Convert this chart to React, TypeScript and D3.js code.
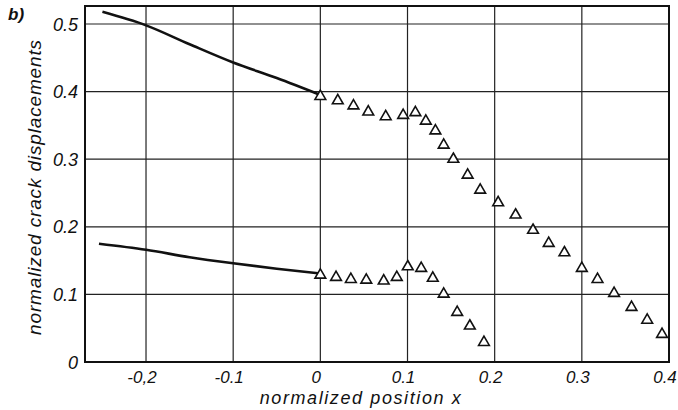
import React from "react";
import * as d3 from "d3";

const W = 678;
const H = 410;

const xTicks = [-0.2, -0.1, 0, 0.1, 0.2, 0.3, 0.4];
const xTickLabels = ["-0,2", "-0.1", "0", "0.1", "0.2", "0.3", "0.4"];
const yTicks = [0, 0.1, 0.2, 0.3, 0.4, 0.5];
const yTickLabels = ["0", "0.1", "0.2", "0.3", "0.4", "0.5"];

// solid curves (x < 0)
const upperCurveX = [-0.25, -0.2, -0.15, -0.1, -0.05, 0];
const upperCurveY = [0.518, 0.498, 0.47, 0.443, 0.42, 0.395];
const lowerCurveX = [-0.254, -0.2, -0.15, -0.1, -0.05, 0];
const lowerCurveY = [0.175, 0.166, 0.155, 0.146, 0.138, 0.131];

// triangle markers
const upperPtsX = [0.0, 0.02, 0.038, 0.055, 0.075, 0.095, 0.109, 0.121, 0.132, 0.1415, 0.1526, 0.169, 0.1834, 0.204, 0.224, 0.244, 0.262, 0.28, 0.3, 0.318, 0.337, 0.357, 0.375, 0.392];
const upperPtsY = [0.393, 0.3866, 0.379, 0.37, 0.363, 0.365, 0.369, 0.3565, 0.342, 0.321, 0.3, 0.2766, 0.2544, 0.2357, 0.2175, 0.195, 0.1756, 0.1617, 0.1386, 0.1223, 0.1016, 0.081, 0.062, 0.041];
const lowerPtsX = [0.0, 0.018, 0.035, 0.0527, 0.0727, 0.0877, 0.1003, 0.1157, 0.129, 0.1415, 0.157, 0.1715, 0.1877];
const lowerPtsY = [0.1287, 0.1253, 0.1223, 0.1213, 0.12, 0.1253, 0.141, 0.1386, 0.124, 0.1006, 0.0735, 0.0533, 0.0291];

const left = 85, right = 669, top = 6, bottom = 362;

export default function App() {
  const x = d3.scaleLinear().domain([-0.27, 0.4]).range([left, right]);
  const y = d3.scaleLinear().domain([0, 0.5]).range([bottom, 24]);
  const line = d3.line<[number, number]>().x(d => x(d[0])).y(d => y(d[1])).curve(d3.curveMonotoneX);
  const up: [number, number][] = upperCurveX.map((v, i) => [v, upperCurveY[i]]);
  const lo: [number, number][] = lowerCurveX.map((v, i) => [v, lowerCurveY[i]]);
  const tri = d3.symbol().type(d3.symbolTriangle).size(50)();
  const font = "'Liberation Sans', 'DejaVu Sans', sans-serif";
  const pts = [
    ...upperPtsX.map((v, i) => [v, upperPtsY[i]]),
    ...lowerPtsX.map((v, i) => [v, lowerPtsY[i]]),
  ];
  return (
    <svg width={W} height={H} style={{ position: "absolute", left: 0, top: 0, background: "#fff" }}>
      {xTicks.map((t, i) => (
        <line key={"gx" + i} x1={x(t)} x2={x(t)} y1={top} y2={bottom} stroke="#222" strokeWidth={1.2} />
      ))}
      {yTicks.map((t, i) => (
        <line key={"gy" + i} x1={left} x2={right} y1={y(t)} y2={y(t)} stroke="#222" strokeWidth={1.2} />
      ))}
      <rect x={left} y={top} width={right - left} height={bottom - top} fill="none" stroke="#111" strokeWidth={2} />
      <path d={line(up) || ""} fill="none" stroke="#111" strokeWidth={2.6} />
      <path d={line(lo) || ""} fill="none" stroke="#111" strokeWidth={2.6} />
      {pts.map((p, i) => (
        <path key={"p" + i} d={tri || ""} transform={`translate(${x(p[0])},${y(p[1])})`} fill="#fff" stroke="#111" strokeWidth={1.6} />
      ))}
      {yTicks.map((t, i) => (
        <text key={"ty" + i} x={78} y={y(t) + 6.5} textAnchor="end" fontFamily={font} fontStyle="italic" fontSize={18} fill="#111">
          {yTickLabels[i]}
        </text>
      ))}
      {xTicks.map((t, i) => (
        <text key={"tx" + i} x={x(t) - 4} y={383} textAnchor="middle" fontFamily={font} fontStyle="italic" fontSize={17} fill="#111">
          {xTickLabels[i]}
        </text>
      ))}
      <text x={361} y={404} textAnchor="middle" fontFamily={font} fontStyle="italic" fontSize={18} letterSpacing={1.6} fill="#111">
        normalized position x
      </text>
      <text transform={`translate(41,187) rotate(-90)`} textAnchor="middle" fontFamily={font} fontStyle="italic" fontSize={19} letterSpacing={0.85} fill="#111">
        normalized crack displacements
      </text>
      <text x={8} y={20} fontFamily={font} fontStyle="italic" fontWeight="bold" fontSize={17} fill="#111">
        b)
      </text>
    </svg>
  );
}
